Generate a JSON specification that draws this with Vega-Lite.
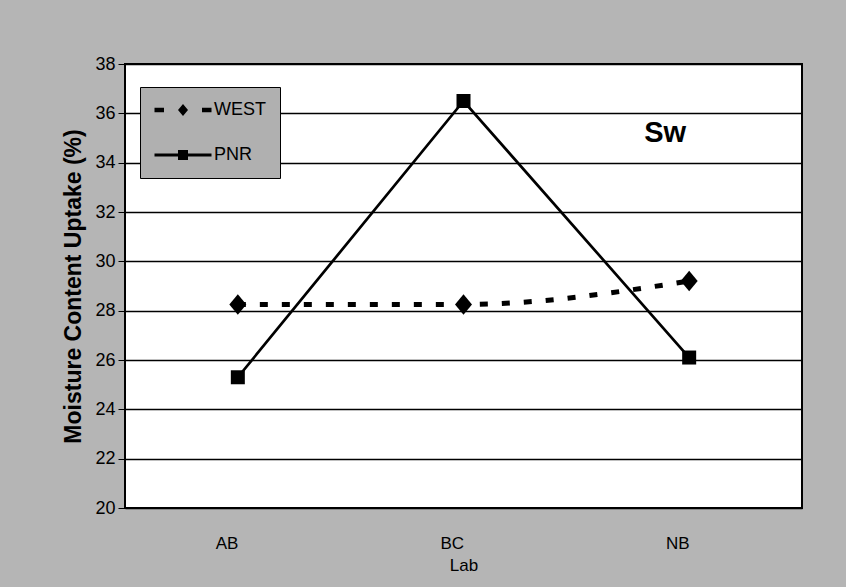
{
  "$schema": "https://vega.github.io/schema/vega-lite/v6.json",
  "width": 677,
  "height": 444,
  "autosize": {"type": "none"},
  "padding": {"left": 125, "top": 64, "right": 44, "bottom": 79},
  "background": "#b5b5b5",
  "view": {"fill": "white", "stroke": "black", "strokeWidth": 2},
  "config": {
    "font": "Liberation Sans",
    "axis": {"labelFont": "Liberation Sans", "titleFont": "Liberation Sans", "labelColor": "black", "titleColor": "black"}
  },
  "datasets": {
    "lines": [
      {"lab": "AB", "series": "WEST", "value": 28.25},
      {"lab": "BC", "series": "WEST", "value": 28.25},
      {"lab": "NB", "series": "WEST", "value": 29.2},
      {"lab": "AB", "series": "PNR", "value": 25.3},
      {"lab": "BC", "series": "PNR", "value": 36.5},
      {"lab": "NB", "series": "PNR", "value": 26.1}
    ],
    "notes": [{"lab": "NB", "value": 35.2, "text": "Sw"}]
  },
  "layer": [
    {
      "data": {"name": "lines"},
      "transform": [{"filter": "datum.series == 'WEST'"}],
      "mark": {"type": "line", "color": "black", "strokeWidth": 5, "strokeDash": [8, 14], "interpolate": "monotone"},
      "encoding": {
        "x": {"field": "lab", "type": "ordinal"},
        "y": {"field": "value", "type": "quantitative"}
      }
    },
    {
      "data": {"name": "lines"},
      "transform": [{"filter": "datum.series == 'PNR'"}],
      "mark": {"type": "line", "color": "black", "strokeWidth": 2.7},
      "encoding": {
        "x": {"field": "lab", "type": "ordinal"},
        "y": {"field": "value", "type": "quantitative"}
      }
    },
    {
      "data": {"name": "lines"},
      "transform": [{"filter": "datum.series == 'WEST'"}],
      "mark": {"type": "point", "shape": "M-1,0L0,-1.2L1,0L0,1.2Z", "filled": true, "opacity": 1, "color": "black", "size": 289, "strokeWidth": 0},
      "encoding": {
        "x": {"field": "lab", "type": "ordinal"},
        "y": {"field": "value", "type": "quantitative"}
      }
    },
    {
      "data": {"name": "lines"},
      "transform": [{"filter": "datum.series == 'PNR'"}],
      "mark": {"type": "point", "shape": "square", "filled": true, "opacity": 1, "color": "black", "size": 196, "strokeWidth": 0},
      "encoding": {
        "x": {"field": "lab", "type": "ordinal"},
        "y": {"field": "value", "type": "quantitative"}
      }
    },
    {
      "data": {"name": "lines"},
      "mark": {"type": "point", "filled": true, "opacity": 1, "color": "black", "size": 0, "strokeWidth": 0},
      "encoding": {
        "x": {
          "field": "lab", "type": "ordinal",
          "scale": {"type": "point", "padding": 0.5},
          "axis": {"title": "Lab", "labelAngle": 0, "labelFontSize": 17, "titleFontSize": 17, "titleFontWeight": "normal", "domain": false, "ticks": false, "labelPadding": 35, "titlePadding": 6, "grid": false}
        },
        "y": {
          "field": "value", "type": "quantitative",
          "scale": {"domain": [20, 38], "nice": false, "zero": false},
          "axis": {"title": "Moisture Content Uptake (%)", "values": [20, 22, 24, 26, 28, 30, 32, 34, 36, 38], "labelFontSize": 18, "titleFontSize": 23, "titleFontWeight": "bold", "grid": true, "gridColor": "black", "gridOpacity": 1, "gridWidth": 1.3, "tickColor": "black", "tickSize": 7, "labelPadding": 3, "titlePadding": 9, "domain": false}
        },
        "shape": {
          "field": "series", "type": "nominal",
          "scale": {"domain": ["WEST", "PNR"], "range": ["M-1,0L0,-1.2L1,0L0,1.2ZM-5.7,-0.45H-3.8V0.45H-5.7ZM3.8,-0.45H5.7V0.45H3.8Z", "M-5.7,-0.3H5.7V0.3H-5.7ZM-1,-1H1V1H-1Z"]},
          "legend": {
            "title": null, "orient": "none", "legendX": 15, "legendY": 23,
            "fillColor": "#b0b0b0", "strokeColor": "black", "padding": 14,
            "labelFontSize": 18, "labelColor": "black", "symbolSize": 100, "rowPadding": 27,
            "symbolFillColor": "black", "symbolStrokeColor": "black", "symbolStrokeWidth": 0,
            "symbolOffset": 20, "labelOffset": 22, "symbolOpacity": 1
          }
        }
      }
    },
    {
      "data": {"name": "notes"},
      "mark": {"type": "text", "fontSize": 29, "fontWeight": "bold", "dx": -24, "color": "black"},
      "encoding": {
        "x": {"field": "lab", "type": "ordinal"},
        "y": {"field": "value", "type": "quantitative"},
        "text": {"field": "text"}
      }
    }
  ]
}
